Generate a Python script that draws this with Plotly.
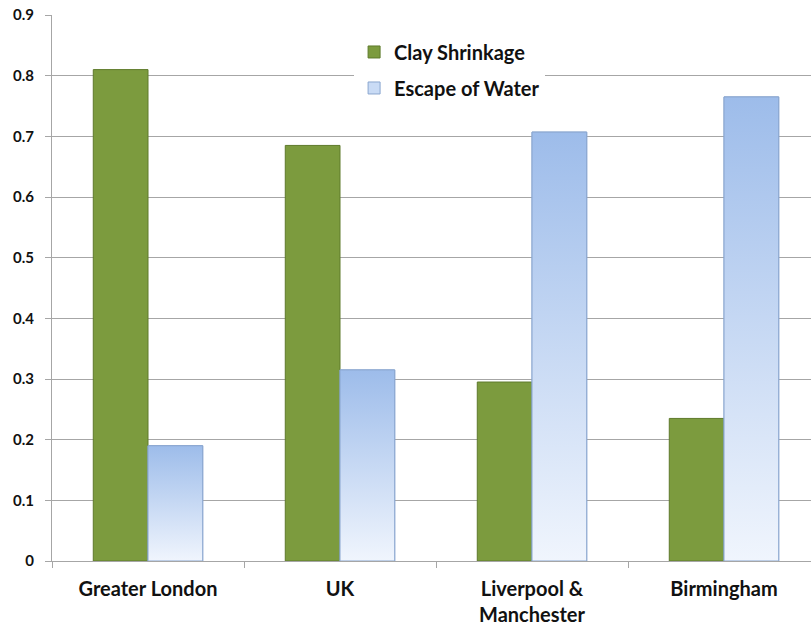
import plotly.graph_objects as go

# Regions and the share of claims by cause
regions = ["Greater London", "UK", "Liverpool &<br>Manchester", "Birmingham"]
clay_shrinkage = [0.81, 0.685, 0.295, 0.235]
escape_of_water = [0.19, 0.315, 0.707, 0.765]
y_ticks = [0, 0.1, 0.2, 0.3, 0.4, 0.5, 0.6, 0.7, 0.8, 0.9]

BAR_W = 0.285
OFF = BAR_W / 2
xpos = list(range(len(regions)))

FONT = "Lato"
GREEN = "#7c9b3e"
GREEN_EDGE = "#5e7a2b"
BLUE_TOP = "#9dbcea"
BLUE_BOTTOM = "#f0f5fd"
BLUE_EDGE = "#8aa6cf"

fig = go.Figure()

fig.add_trace(go.Bar(
    name="<b>Clay Shrinkage</b>", x=[i - OFF for i in xpos], y=clay_shrinkage,
    width=BAR_W, marker=dict(color=GREEN, line=dict(color=GREEN_EDGE, width=1)),
    legendgroup="clay",
))
fig.add_trace(go.Bar(
    name="<b>Escape of Water</b>", x=[i + OFF for i in xpos], y=escape_of_water,
    width=BAR_W, marker=dict(color="#c9dbf5", line=dict(color=BLUE_EDGE, width=1)),
    legendgroup="water",
))

# vertical gradient fill over each Escape of Water bar
for i, v in zip(xpos, escape_of_water):
    x0, x1 = i + OFF - BAR_W / 2, i + OFF + BAR_W / 2
    fig.add_trace(go.Scatter(
        x=[x0, x0, x1, x1, x0], y=[0, v, v, 0, 0],
        mode="lines", fill="toself",
        fillgradient=dict(type="vertical",
                          colorscale=[[0, BLUE_BOTTOM], [1, BLUE_TOP]]),
        line=dict(color=BLUE_EDGE, width=1),
        showlegend=False, hoverinfo="skip",
    ))

fig.update_layout(
    width=811, height=629,
    margin=dict(l=52, r=0, t=15, b=68),
    paper_bgcolor="white", plot_bgcolor="white",
    font=dict(family=FONT, color="#1a1a1a"),
    showlegend=True,
    legend=dict(
        x=0.398, y=0.968, xanchor="left", yanchor="top",
        bgcolor="white", font=dict(family=FONT, size=20, color="#111"),
        traceorder="grouped", tracegroupgap=7,
        itemwidth=30,
    ),
    xaxis=dict(
        range=[-0.5, -0.5 + 759 / 192],
        tickmode="array", tickvals=xpos, ticktext=[f"<b>{r}</b>" for r in regions],
        ticks="", showgrid=False, zeroline=False,
        showline=True, linecolor="#a6a6a6", linewidth=1,
        tickfont=dict(family=FONT, size=20, color="#111"),
        ticklabelstandoff=10,
        minor=dict(tickmode="array", tickvals=[-0.5, 0.5, 1.5, 2.5, 3.5],
                   ticks="outside", ticklen=6, tickcolor="#a6a6a6", showgrid=False),
        fixedrange=True,
    ),
    yaxis=dict(
        range=[0, 0.9],
        tickmode="array", tickvals=y_ticks,
        ticktext=[f"<b>{t:g}</b>" for t in y_ticks],
        ticks="outside", ticklen=6, tickcolor="#a6a6a6",
        ticklabelstandoff=8,
        showgrid=True, gridcolor="#a6a6a6", gridwidth=1,
        zeroline=False, showline=True, linecolor="#a6a6a6", linewidth=1,
        tickfont=dict(family=FONT, size=15, color="#111"),
        fixedrange=True,
    ),
)

fig.write_html("out.html")
